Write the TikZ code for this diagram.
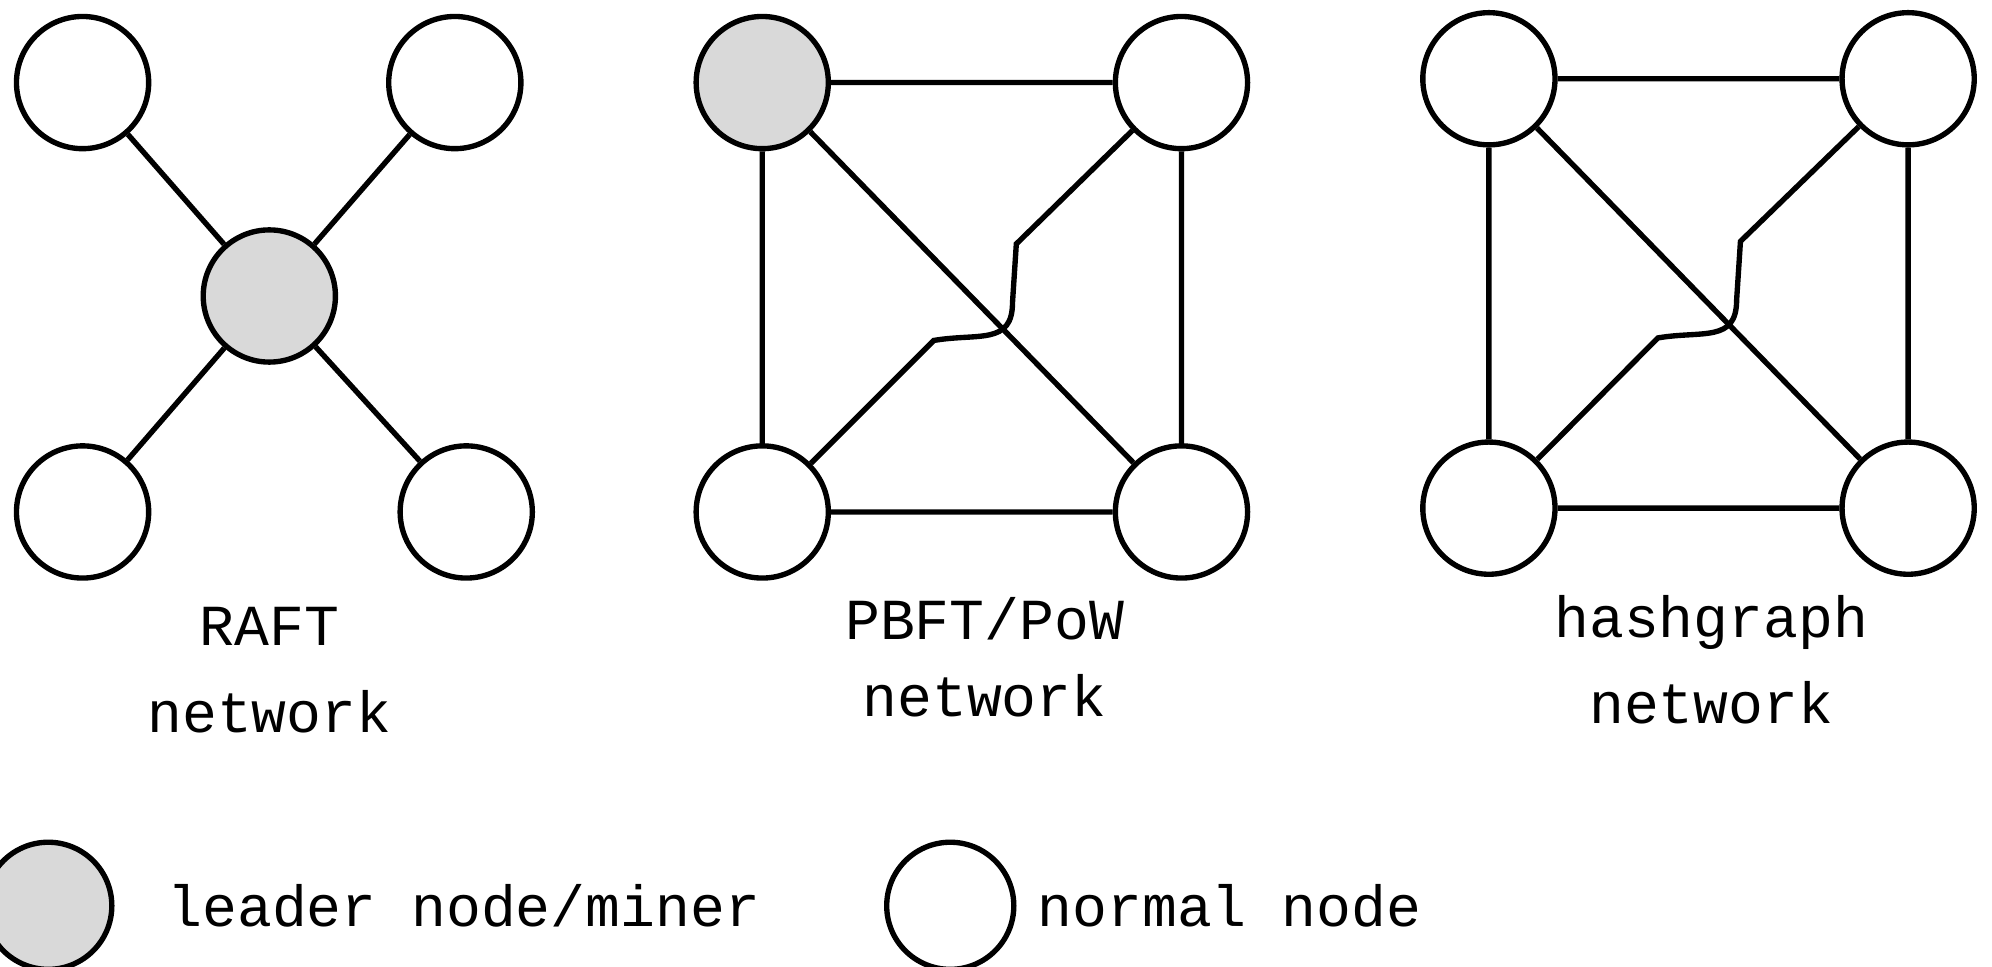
\documentclass[tikz,border=0pt]{standalone}
\usepackage{fontspec}
\setmonofont{Liberation Mono}
\begin{document}
\begin{tikzpicture}[x=0.01cm,y=-0.01cm,
  nd/.style={circle,draw,line width=1.2pt,minimum size=1.04cm,inner sep=0pt,fill=white},
  ld/.style={nd,fill=gray!30},
  lbl/.style={font=\ttfamily\fontsize{13pt}{15pt}\selectfont},
  every path/.style={line width=1.2pt}]
\useasboundingbox (0,0) rectangle (1568,761);
% RAFT
\node[nd] (r1) at (65,65) {};
\node[nd] (r2) at (358,65) {};
\node[ld] (rc) at (212,233) {};
\node[nd] (r3) at (65,403) {};
\node[nd] (r4) at (367,403) {};
\foreach \n in {r1,r2,r3,r4} \draw (rc) -- (\n);
\node[lbl] (rt1) at (212,493) {RAFT};
\node[lbl] (rt2) at (212,560) {network};
% PBFT
\node[ld] (p1) at (600,65) {};
\node[nd] (p2) at (930,65) {};
\node[nd] (p3) at (600,403) {};
\node[nd] (p4) at (930,403) {};
\draw (p1)--(p2) (p1)--(p3) (p2)--(p4) (p3)--(p4) (p1)--(p4);
\coordinate (pa) at (735,268);
\coordinate (pb) at (800,192);
\draw (p3) -- (pa) .. controls (770,262) and (797,272) .. (797,238) -- (pb) -- (p2);
\node[lbl] (pt1) at (775,487) {PBFT/PoW};
\node[lbl] (pt2) at (775,548) {network};
% hashgraph
\node[nd] (h1) at (1172,62) {};
\node[nd] (h2) at (1502,62) {};
\node[nd] (h3) at (1172,400) {};
\node[nd] (h4) at (1502,400) {};
\draw (h1)--(h2) (h1)--(h3) (h2)--(h4) (h3)--(h4) (h1)--(h4);
\coordinate (ha) at (1305,266);
\coordinate (hb) at (1370,190);
\draw (h3) -- (ha) .. controls (1340,260) and (1367,270) .. (1367,236) -- (hb) -- (h2);
\node[lbl] (ht1) at (1347,490) {hashgraph};
\node[lbl] (ht2) at (1347,553) {network};
% legend
\node[ld,minimum size=1.0cm] (l1) at (38,713) {};
\node[lbl,anchor=west] (l1t) at (118,713) {leader node/miner};
\node[nd,minimum size=1.0cm] (l2) at (748,713) {};
\node[lbl,anchor=west] (l2t) at (803,713) {normal node};
\end{tikzpicture}
\end{document}
